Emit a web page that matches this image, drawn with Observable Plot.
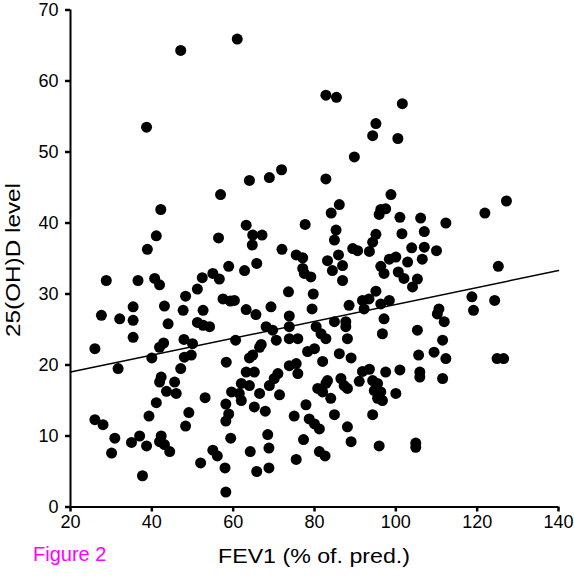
<!DOCTYPE html>
<html>
<head>
<meta charset="utf-8">
<script src="https://cdn.jsdelivr.net/npm/d3@7"></script>
<script src="https://cdn.jsdelivr.net/npm/@observablehq/plot@0.6"></script>
<style>
  html, body { margin: 0; padding: 0; background: #fff; }
  #chart svg { display: block; }
</style>
</head>
<body>
<div id="chart"></div>
<script>
// FEV1 (% of predicted) for each patient
const fev1 = [
  47.1, 61.0, 38.7, 82.8, 85.4, 101.6, 95.1, 94.3, 100.5, 89.8, 71.9, 68.9, 64.0, 82.8,
  56.9, 42.2, 41.1, 56.4, 38.9, 58.9, 28.8, 36.6, 40.7, 41.9, 52.4, 55.0, 56.6, 51.2,
  48.3, 57.5, 59.3, 27.6, 32.1, 35.4, 35.4, 43.1, 44.0, 47.7, 52.6, 51.2, 52.6, 54.2,
  35.4, 42.9, 47.9, 50.0, 26.0, 60.6,
  40.0, 31.7, 41.9, 48.0, 49.7, 47.1, 58.3, 42.3, 41.9, 45.6, 43.6, 46.0, 53.1, 59.6,
  41.1, 58.2, 39.3, 49.1, 58.9, 58.2, 48.3, 26.0, 28.0, 30.9, 30.1, 35.0, 37.0, 38.7,
  42.3, 41.9, 43.1, 44.4, 37.7, 52.0, 55.0, 56.1, 58.0, 58.2, 59.4,
  98.8, 86.1, 84.1, 96.3, 97.5, 95.9, 101.0, 63.2, 77.7, 64.8, 67.1, 64.7, 85.3, 84.9,
  95.1, 94.3, 101.5, 72.0, 75.5, 77.1, 77.1, 77.5, 79.1, 62.8, 65.8, 85.9, 83.2, 84.4,
  86.9, 86.9, 89.4, 90.6, 93.5, 96.3, 98.4, 97.1, 100.6, 73.6, 79.7, 79.4, 69.3, 63.2,
  65.6, 60.3, 73.8, 68.1, 69.7, 73.8, 70.6, 73.8, 75.9, 80.4, 81.6, 82.8, 84.9, 88.5,
  87.7, 87.7, 88.1, 91.8, 93.4, 92.2, 95.1, 96.3, 98.4, 97.1, 96.7, 66.9,
  127.2, 121.9, 106.1, 112.3, 107.0, 103.9, 107.0, 110.0, 100.0, 102.9, 106.5, 102.0,
  105.3, 104.1, 125.2, 118.7, 124.3, 119.1, 110.6, 110.2, 111.9, 105.3, 111.5,
  105.6, 109.4, 112.3, 101.0, 105.9, 105.9, 111.5, 100.0, 124.9, 126.5, 104.9, 104.9,
  66.5, 64.8, 64.0, 78.3, 80.0, 82.0, 86.1, 89.0, 63.2, 65.2, 62.0, 64.0, 61.5, 62.0,
  66.5, 71.4, 68.9, 70.1, 71.0, 73.8, 75.5, 75.9, 65.2, 67.9, 77.9, 75.0, 78.7, 80.0,
  81.2, 80.8, 82.0, 82.8, 84.0, 83.2, 86.5, 87.3, 88.1, 91.0, 91.8, 93.5, 97.5, 94.3,
  95.5, 94.7, 96.3, 95.5, 96.7, 84.9, 88.1, 89.0, 94.3, 95.9, 68.5, 68.8, 77.3, 81.2,
  82.6, 75.5, 64.2, 65.8, 68.8
];
// 25(OH)D level for each patient (same order)
const vitD = [
  64.3, 65.9, 53.5, 58.0, 57.7, 56.8, 54.0, 52.3, 51.9, 49.3, 47.5, 46.4, 46.0, 46.2,
  44.0, 41.9, 38.2, 37.9, 36.3, 33.9, 31.9, 31.9, 32.2, 31.3, 32.3, 32.9, 32.1, 30.7,
  29.7, 29.3, 29.0, 27.0, 26.5, 28.2, 26.3, 28.3, 25.8, 27.7, 27.7, 26.0, 25.6, 25.4,
  23.9, 23.1, 23.6, 23.0, 22.3, 23.5,
  21.0, 19.5, 22.5, 21.1, 21.4, 19.5, 20.4, 18.3, 17.6, 17.6, 16.3, 16.0, 15.4, 16.2,
  14.7, 14.5, 12.8, 13.3, 13.1, 12.1, 11.4, 12.3, 11.6, 9.7, 7.6, 9.1, 10.0, 8.6,
  10.0, 9.2, 8.8, 7.8, 4.4, 6.2, 8.0, 7.2, 5.5, 2.1, 9.7,
  44.0, 42.6, 41.4, 41.9, 42.0, 41.2, 40.8, 39.7, 39.8, 38.3, 38.3, 36.9, 39.0, 37.6,
  38.4, 37.3, 38.5, 36.3, 35.5, 35.1, 33.6, 32.9, 32.4, 33.3, 34.3, 35.5, 34.7, 33.3,
  34.0, 31.9, 36.4, 36.1, 36.0, 33.9, 34.9, 32.9, 33.1, 30.3, 30.0, 27.9, 28.2, 27.8,
  27.1, 29.1, 26.9, 25.4, 24.9, 25.4, 23.5, 23.7, 23.7, 25.4, 24.4, 23.7, 26.1, 28.4,
  26.1, 25.4, 23.7, 29.1, 29.3, 27.9, 30.4, 28.6, 29.1, 26.5, 24.4, 22.9,
  43.1, 41.4, 40.7, 40.0, 38.8, 36.5, 36.6, 36.1, 35.2, 34.5, 34.9, 32.2,
  32.1, 31.0, 33.9, 29.6, 29.1, 27.7, 27.9, 27.2, 26.1, 24.9, 23.5,
  21.4, 21.8, 20.9, 19.3, 19.0, 18.3, 18.1, 16.0, 20.9, 20.9, 9.0, 8.4,
  22.5, 21.4, 21.0, 21.9, 22.3, 20.5, 21.6, 21.0, 19.0, 19.0, 17.4, 17.1, 16.0, 15.0,
  16.0, 15.8, 17.1, 18.1, 18.8, 19.9, 20.2, 18.8, 14.1, 13.5, 14.4, 12.8, 12.4, 11.7,
  11.0, 16.7, 16.2, 17.4, 15.3, 17.8, 18.1, 17.1, 16.7, 17.7, 19.1, 19.4, 19.0, 17.8,
  17.4, 16.4, 16.2, 15.3, 15.0, 13.0, 11.3, 9.2, 13.0, 8.6, 10.2, 8.3, 9.5, 7.8,
  7.2, 6.7, 7.8, 5.0, 5.5
];
// fitted regression line
const fitX = [20, 140];
const fitY = [19.0, 33.3];
// axis ticks
const xTicks = [20, 40, 60, 80, 100, 120, 140];
const yTicks = [0, 10, 20, 30, 40, 50, 60, 70];

const points = fev1.map((x, i) => ({x, y: vitD[i]}));
const fit = fitX.map((x, i) => ({x, y: fitY[i]}));

const W = 574, H = 576;
const chart = Plot.plot({
  width: W,
  height: H,
  marginLeft: 70,
  marginRight: 16,
  marginTop: 9.5,
  marginBottom: 69.5,
  style: {fontFamily: "'Liberation Sans', Arial, sans-serif", fontSize: "18px", color: "black", background: "white"},
  x: {domain: [20, 140]},
  y: {domain: [0, 70]},
  marks: [
    Plot.axisX({ticks: xTicks, tickSize: 5, tickPadding: 3, strokeWidth: 2.5, label: null, fontSize: 18}),
    Plot.axisY({ticks: yTicks, tickSize: 5, tickPadding: 7, strokeWidth: 2.5, label: null, fontSize: 18}),
    Plot.ruleX([20], {y1: 0, y2: 70, stroke: "black", strokeWidth: 2}),
    Plot.ruleY([0], {x1: 20, x2: 140, stroke: "black", strokeWidth: 2}),
    Plot.line(fit, {x: "x", y: "y", stroke: "black", strokeWidth: 1.5}),
    Plot.dot(points, {x: "x", y: "y", r: 5.5, fill: "black", stroke: "none"})
  ]
});

const svg = d3.select(chart);
svg.append("text")
  .attr("transform", "translate(20,260) rotate(-90)")
  .attr("text-anchor", "middle")
  .attr("font-family", "'Liberation Sans', Arial, sans-serif")
  .attr("font-size", 19.5)
  .attr("textLength", 154)
  .attr("lengthAdjust", "spacingAndGlyphs")
  .attr("fill", "black")
  .text("25(OH)D level");
svg.append("text")
  .attr("x", 314).attr("y", 563)
  .attr("text-anchor", "middle")
  .attr("font-family", "'Liberation Sans', Arial, sans-serif")
  .attr("font-size", 21)
  .attr("textLength", 192)
  .attr("lengthAdjust", "spacingAndGlyphs")
  .attr("fill", "black")
  .text("FEV1 (% of. pred.)");
svg.append("text")
  .attr("x", 33).attr("y", 561)
  .attr("text-anchor", "start")
  .attr("font-family", "'Liberation Sans', Arial, sans-serif")
  .attr("font-size", 20)
  .attr("fill", "#ff00ff")
  .text("Figure 2");

document.getElementById("chart").appendChild(chart);
</script>
</body>
</html>
